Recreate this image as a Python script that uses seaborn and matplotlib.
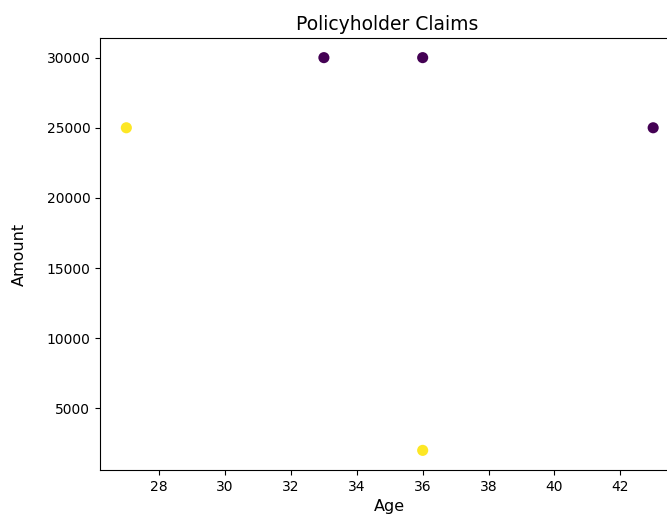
import matplotlib
matplotlib.use("Agg")
import matplotlib.pyplot as plt
import seaborn as sns
import pandas as pd

# Policyholder ages, claim amounts and claim status flags
ages = [27, 33, 36, 36, 43]
amounts = [25000, 30000, 30000, 2000, 25000]
status = [1, 0, 0, 1, 0]

df = pd.DataFrame({"Age": ages, "Amount": amounts, "Status": status})

fig = plt.figure(figsize=(6.67, 5.21), dpi=100)
ax = fig.add_axes([100 / 667, 51 / 521, 579.5 / 667, 432 / 521])

sns.scatterplot(
    data=df, x="Age", y="Amount", hue="Status",
    palette="viridis", hue_norm=(0, 1),
    s=64, linewidth=0, legend=False, ax=ax,
)

ax.set_title("Policyholder Claims", fontsize=13.5, x=0.495)
ax.set_xlabel("Age", fontsize=11.5)
ax.set_ylabel("Amount", fontsize=11.5)
ax.yaxis.set_label_coords(-0.127, 0.5)

fig.savefig("out.png", dpi=100)
